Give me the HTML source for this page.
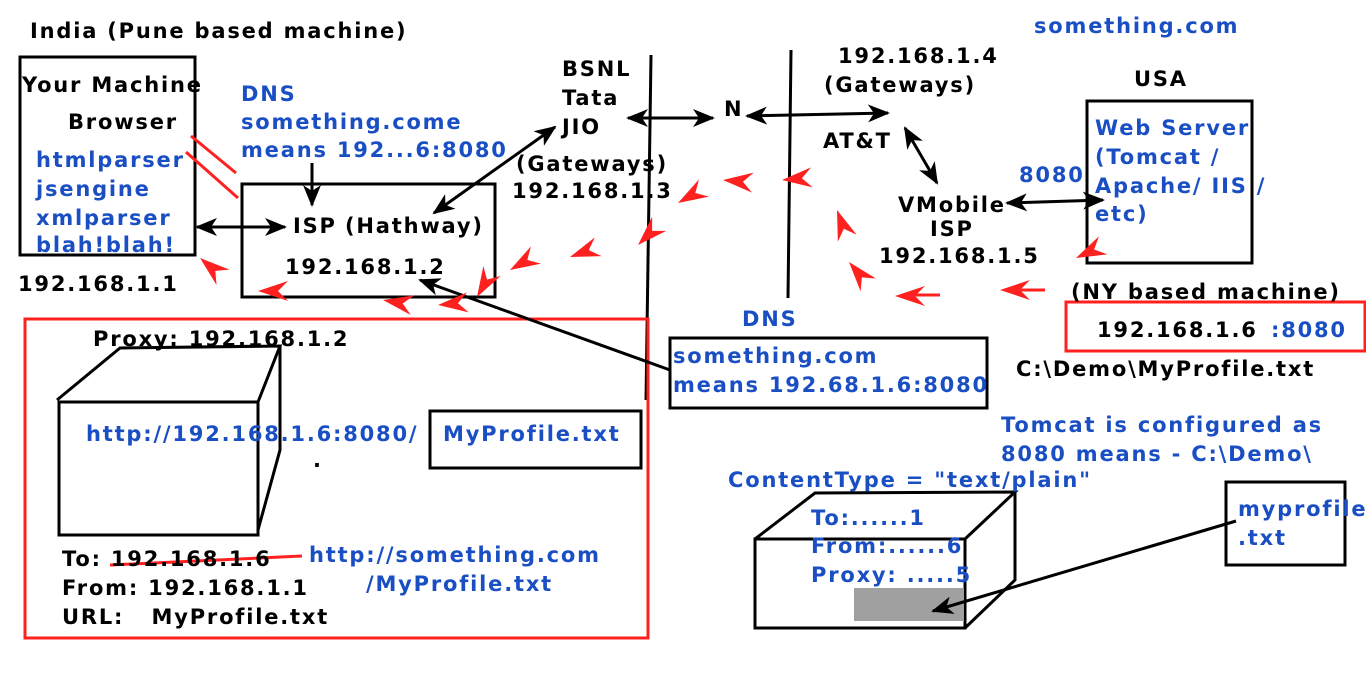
<!DOCTYPE html>
<html><head><meta charset="utf-8"><style>
html,body{margin:0;padding:0;background:#fff;}
svg{display:block;}
text{font-family:"DejaVu Sans","Liberation Sans",sans-serif;font-weight:bold;font-size:21px;letter-spacing:1.8px;fill:#000;}
.b{fill:#1a4fc4;}
</style></head><body>
<svg width="1366" height="697" viewBox="0 0 1366 697" xmlns="http://www.w3.org/2000/svg">
<defs>
<marker id="ak" markerWidth="22" markerHeight="18" refX="20" refY="9" orient="auto-start-reverse" markerUnits="userSpaceOnUse"><path d="M0,0 L22,9 L0,18 L6,9 z" fill="#000"/></marker>
</defs>
<g fill="none" stroke="#000" stroke-width="3">
<rect x="20" y="57" width="175" height="198"/>
<rect x="242" y="184" width="253" height="113"/>
<rect x="1087" y="101" width="165" height="162"/>
<rect x="670" y="338" width="317" height="70"/>
<rect x="430" y="411" width="211" height="57"/>
<rect x="1226" y="482" width="119" height="83"/>
<path d="M651,55 L646,400"/>
<path d="M791,50 L788,298"/>
<rect x="59" y="402" width="199" height="133"/>
<path d="M57,400 L120,348 L280,346 L258,402 M280,346 L280,450 L258,530"/>
<rect x="755" y="539" width="210" height="89"/>
<path d="M755,539 L815,493 L1015,492 L965,539 M1015,492 L1015,580 L965,628"/>
</g>
<rect x="854" y="588" width="110" height="33" fill="#a0a0a0"/>
<g fill="none" stroke="#ff2020" stroke-width="3">
<rect x="25" y="319" width="623" height="319"/>
<rect x="1066" y="302" width="299" height="49"/>
<path d="M110,565 L302,556"/>
<path d="M191,136 L236,173 M186,152 L238,198"/>
<path d="M1015,290 L1045,290 M912,295 L940,295"/>
</g>
<g stroke="#000" stroke-width="3" fill="none">
<path d="M197,227 L285,227" marker-start="url(#ak)" marker-end="url(#ak)"/>
<path d="M312,163 L312,205" marker-end="url(#ak)"/>
<path d="M434,213 L555,127" marker-start="url(#ak)" marker-end="url(#ak)"/>
<path d="M628,118 L713,118" marker-start="url(#ak)" marker-end="url(#ak)"/>
<path d="M747,116 L888,113" marker-start="url(#ak)" marker-end="url(#ak)"/>
<path d="M905,128 L937,183" marker-start="url(#ak)" marker-end="url(#ak)"/>
<path d="M1007,203 L1103,200" marker-start="url(#ak)" marker-end="url(#ak)"/>
<path d="M670,370 L420,280" marker-end="url(#ak)"/>
<path d="M1236,521 L933,611" marker-end="url(#ak)"/>
</g>
<g fill="#ff2020">
<path d="M0,0 L30,-10 L20,0 L30,10 z" transform="translate(1000,290)"/>
<path d="M0,0 L30,-10 L20,0 L30,10 z" transform="translate(895,296)"/>
<path d="M0,0 L30,-10 L20,0 L30,10 z" transform="translate(1076,258) rotate(-25)"/>
<path d="M0,0 L30,-10 L20,0 L30,10 z" transform="translate(849,262) rotate(50)"/>
<path d="M0,0 L30,-10 L20,0 L30,10 z" transform="translate(837,210) rotate(70)"/>
<path d="M0,0 L30,-10 L20,0 L30,10 z" transform="translate(782,180) rotate(-5)"/>
<path d="M0,0 L30,-10 L20,0 L30,10 z" transform="translate(723,180) rotate(5)"/>
<path d="M0,0 L30,-10 L20,0 L30,10 z" transform="translate(678,203) rotate(-30)"/>
<path d="M0,0 L30,-10 L20,0 L30,10 z" transform="translate(638,245) rotate(-45)"/>
<path d="M0,0 L30,-10 L20,0 L30,10 z" transform="translate(570,257) rotate(-20)"/>
<path d="M0,0 L30,-10 L20,0 L30,10 z" transform="translate(510,270) rotate(-30)"/>
<path d="M0,0 L30,-10 L20,0 L30,10 z" transform="translate(477,297) rotate(-60)"/>
<path d="M0,0 L30,-10 L20,0 L30,10 z" transform="translate(438,305) rotate(-5)"/>
<path d="M0,0 L30,-10 L20,0 L30,10 z" transform="translate(383,300) rotate(10)"/>
<path d="M0,0 L30,-10 L20,0 L30,10 z" transform="translate(258,291)"/>
<path d="M0,0 L30,-10 L20,0 L30,10 z" transform="translate(200,258) rotate(40)"/>
</g>
<text x="30" y="38">India (Pune based machine)</text>
<text class="b" x="1034" y="33">something.com</text>
<text x="838" y="63">192.168.1.4</text>
<text x="824" y="92">(Gateways)</text>
<text x="1134" y="86">USA</text>
<text x="562" y="76">BSNL</text>
<text x="562" y="105">Tata</text>
<text x="562" y="134">JIO</text>
<text x="724" y="116">N</text>
<text x="823" y="148">AT&amp;T</text>
<text x="22" y="92">Your Machine</text>
<text x="68" y="129">Browser</text>
<text class="b" x="36" y="167">htmlparser</text>
<text class="b" x="36" y="196">jsengine</text>
<text class="b" x="36" y="225">xmlparser</text>
<text class="b" x="36" y="252">blah!blah!</text>
<text x="18" y="291">192.168.1.1</text>
<text class="b" x="241" y="101">DNS</text>
<text class="b" x="241" y="129">something.come</text>
<text class="b" x="241" y="157">means 192...6:8080</text>
<text x="516" y="171">(Gateways)</text>
<text x="512" y="198">192.168.1.3</text>
<text x="293" y="233">ISP</text>
<text x="345" y="233">(Hathway)</text>
<text x="285" y="274">192.168.1.2</text>
<text x="898" y="212">VMobile</text>
<text x="930" y="236">ISP</text>
<text x="879" y="263">192.168.1.5</text>
<text class="b" x="1019" y="182">8080</text>
<text class="b" x="1095" y="135">Web Server</text>
<text class="b" x="1095" y="164">(Tomcat /</text>
<text class="b" x="1095" y="193">Apache/ IIS /</text>
<text class="b" x="1095" y="221">etc)</text>
<text x="1071" y="299">(NY based machine)</text>
<text x="1097" y="337">192.168.1.6</text>
<text class="b" x="1271" y="337">:8080</text>
<text class="b" x="742" y="326">DNS</text>
<text class="b" x="673" y="363">something.com</text>
<text class="b" x="673" y="392">means 192.68.1.6:8080</text>
<text x="1016" y="376">C:\Demo\MyProfile.txt</text>
<text class="b" x="1001" y="432">Tomcat is configured as</text>
<text class="b" x="1001" y="461">8080 means - C:\Demo\</text>
<text class="b" x="728" y="487">ContentType = "text/plain"</text>
<text x="93" y="346">Proxy: 192.168.1.2</text>
<text class="b" x="86" y="441">http://192.168.1.6:8080/</text>
<text class="b" x="443" y="441">MyProfile.txt</text>
<text x="313" y="467">.</text>
<text x="62" y="566">To: 192.168.1.6</text>
<text x="62" y="595">From: 192.168.1.1</text>
<text x="62" y="624" xml:space="preserve">URL:   MyProfile.txt</text>
<text class="b" x="309" y="562">http://something.com</text>
<text class="b" x="366" y="591">/MyProfile.txt</text>
<text class="b" x="811" y="525">To:......1</text>
<text class="b" x="811" y="553">From:......6</text>
<text class="b" x="811" y="582">Proxy: .....5</text>
<text class="b" x="1238" y="516">myprofile</text>
<text class="b" x="1238" y="545">.txt</text>
</svg>
</body></html>
